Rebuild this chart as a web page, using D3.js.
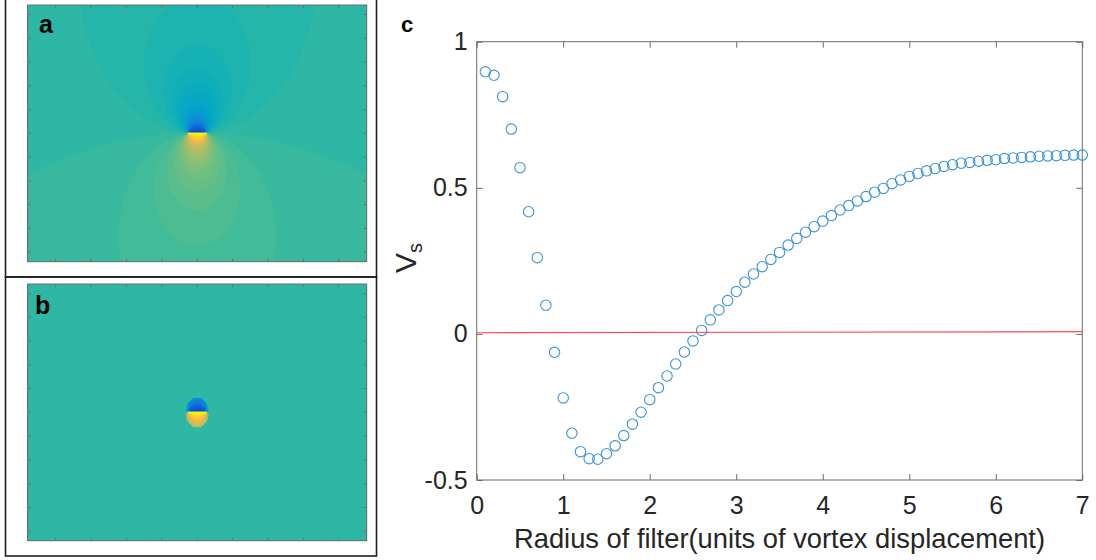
<!DOCTYPE html>
<html>
<head>
<meta charset="utf-8">
<script src="https://cdn.jsdelivr.net/npm/d3@7"></script>
<style>
  body { margin: 0; background: #fff; }
  svg { display: block; }
  text { font-family: "Liberation Sans", Arial, Helvetica, sans-serif; }
</style>
</head>
<body>
<svg id="fig" width="1096" height="560"></svg>
<script>
// ---- panel c: filtered signal V_s against filter radius ----
const radius = [
  0.1, 0.2, 0.3, 0.4, 0.5, 0.6, 0.7, 0.8, 0.9, 1.0,
  1.1, 1.2, 1.3, 1.4, 1.5, 1.6, 1.7, 1.8, 1.9, 2.0,
  2.1, 2.2, 2.3, 2.4, 2.5, 2.6, 2.7, 2.8, 2.9, 3.0,
  3.1, 3.2, 3.3, 3.4, 3.5, 3.6, 3.7, 3.8, 3.9, 4.0,
  4.1, 4.2, 4.3, 4.4, 4.5, 4.6, 4.7, 4.8, 4.9, 5.0,
  5.1, 5.2, 5.3, 5.4, 5.5, 5.6, 5.7, 5.8, 5.9, 6.0,
  6.1, 6.2, 6.3, 6.4, 6.5, 6.6, 6.7, 6.8, 6.9, 7.0
];
const vs = [
  0.897, 0.885, 0.812, 0.701, 0.569, 0.418, 0.261, 0.098, -0.063, -0.219,
  -0.340, -0.403, -0.427, -0.429, -0.410, -0.383, -0.348, -0.309, -0.268, -0.225,
  -0.184, -0.144, -0.103, -0.062, -0.024, 0.012, 0.048, 0.082, 0.114, 0.145,
  0.177, 0.205, 0.230, 0.255, 0.279, 0.304, 0.327, 0.348, 0.367, 0.386,
  0.405, 0.424, 0.439, 0.455, 0.470, 0.485, 0.498, 0.514, 0.527, 0.539,
  0.549, 0.558, 0.566, 0.573, 0.579, 0.584, 0.587, 0.591, 0.594, 0.596,
  0.600, 0.602, 0.604, 0.606, 0.608, 0.609, 0.610, 0.611, 0.612, 0.612
];
// reference level line
const refLineX = [0, 7];
const refLineY = [0.004, 0.0075];

const xTicksC = [0, 1, 2, 3, 4, 5, 6, 7];
const yTicksC = [-0.5, 0, 0.5, 1];
const xLabelC = "Radius of filter(units of vortex displacement)";

// ---- panels a/b: phase field of a displaced vortex pair ----
const fieldXTicks = [-4, -3, -2, -1, 0, 1, 2, 3, 4];
const fieldYTicks = [-5, -4, -3, -2, -1, 0, 1, 2, 3, 4, 5];
const fieldXDomain = [-4.79, 4.79];
const fieldYDomain = [-5.4, 5.4];
const unitX = 0.32;          // axis units per displacement unit, horizontal
const unitY = 0.63;          // axis units per displacement unit, vertical
const halfSeparation = 0.82; // half distance between the two vortex cores
const filterRadius = 1.0;    // radius of the circular filter in panel b

// parula colormap, 64 entries
const parula = [
  [53,42,135],[54,48,147],[54,55,160],[53,61,173],[50,67,186],[44,74,199],[32,83,212],[15,92,221],
  [3,99,225],[2,104,225],[4,109,224],[8,113,222],[13,117,220],[16,121,218],[18,125,216],[20,129,214],
  [20,133,212],[19,137,211],[16,142,210],[12,147,210],[9,152,209],[7,156,207],[6,160,205],[6,164,202],
  [6,167,198],[7,169,194],[10,172,190],[15,174,185],[21,177,180],[29,179,175],[37,181,169],[46,183,164],
  [56,185,158],[66,187,152],[77,188,146],[89,189,140],[101,190,134],[113,191,128],[124,191,123],[135,191,119],
  [146,191,115],[156,191,111],[165,190,107],[174,190,103],[183,189,100],[192,188,96],[200,188,93],[209,187,89],
  [217,186,86],[225,185,82],[233,185,78],[241,185,74],[248,187,68],[253,190,61],[255,195,55],[254,200,50],
  [252,206,46],[250,211,42],[247,216,38],[245,222,33],[245,228,29],[245,235,24],[246,243,19],[249,251,14]
].map(c => d3.rgb(c[0], c[1], c[2]).formatHex());
const colorLo = -Math.PI + 0.02, colorHi = Math.PI + 0.02;

const svg = d3.select("#fig");
svg.append("rect").attr("width", 1096).attr("height", 560).attr("fill", "#fff");

// outer frames of the two image panels
svg.append("rect").attr("x", 5.5).attr("y", -2).attr("width", 371).attr("height", 279)
  .attr("fill", "none").attr("stroke", "#1e1e1e").attr("stroke-width", 1.6);
svg.append("rect").attr("x", 5.5).attr("y", 277).attr("width", 371).attr("height", 279)
  .attr("fill", "none").attr("stroke", "#1e1e1e").attr("stroke-width", 1.6);

function phaseDiff(u, w) {
  return Math.atan2(w, u - halfSeparation) - Math.atan2(w, u + halfSeparation);
}

function drawField(box, masked, id) {
  const xs = d3.scaleLinear().domain(fieldXDomain).range([box.x, box.x + box.w]);
  const ys = d3.scaleLinear().domain(fieldYDomain).range([box.y, box.y + box.h]);
  const nx = Math.round(box.w), ny = Math.round(box.h);
  const cw = box.w / nx, ch = box.h / ny;
  const values = new Float64Array(nx * ny);
  for (let j = 0; j < ny; j++) {
    const Y = ys.invert(box.y + (j + 0.5) * ch);
    for (let i = 0; i < nx; i++) {
      const X = xs.invert(box.x + (i + 0.5) * cw);
      const u = X / unitX, w = Y / unitY;
      let v = phaseDiff(u, w);
      if (masked && u * u + w * w > filterRadius * filterRadius) v = 0;
      values[j * nx + i] = v;
    }
  }
  const color = d3.scaleQuantize().domain([colorLo, colorHi]).range(parula);
  const step = (colorHi - colorLo) / parula.length;
  const thresholds = d3.range(1, parula.length).map(k => colorLo + k * step);
  const contours = d3.contours().size([nx, ny]).thresholds(thresholds)(Array.from(values));

  svg.append("clipPath").attr("id", id).append("rect")
    .attr("x", box.x).attr("y", box.y).attr("width", box.w).attr("height", box.h);
  const g = svg.append("g").attr("clip-path", `url(#${id})`);
  g.append("rect").attr("x", box.x).attr("y", box.y).attr("width", box.w).attr("height", box.h)
    .attr("fill", parula[0]);
  g.append("g")
    .attr("transform", `translate(${box.x},${box.y}) scale(${cw},${ch})`)
    .selectAll("path").data(contours).join("path")
    .attr("d", d3.geoPath())
    .attr("fill", d => color(d.value + step / 2));

  // frame and inward ticks on all four sides
  svg.append("rect").attr("x", box.x).attr("y", box.y).attr("width", box.w).attr("height", box.h)
    .attr("fill", "none").attr("stroke", "#6e6e6e").attr("stroke-width", 1);
  const tk = svg.append("g").attr("stroke", "#6e6e6e").attr("stroke-width", 1);
  fieldXTicks.forEach(t => {
    const px = xs(t);
    tk.append("line").attr("x1", px).attr("x2", px).attr("y1", box.y).attr("y2", box.y + 3);
    tk.append("line").attr("x1", px).attr("x2", px).attr("y1", box.y + box.h).attr("y2", box.y + box.h - 3);
  });
  fieldYTicks.forEach(t => {
    const py = ys(t);
    tk.append("line").attr("y1", py).attr("y2", py).attr("x1", box.x).attr("x2", box.x + 3);
    tk.append("line").attr("y1", py).attr("y2", py).attr("x1", box.x + box.w).attr("x2", box.x + box.w - 3);
  });
}

drawField({ x: 27.7, y: 5, w: 339, h: 256.7 }, false, "clipA");
drawField({ x: 27.7, y: 284, w: 339, h: 256.7 }, true, "clipB");

svg.append("text").attr("x", 39).attr("y", 33).text("a")
  .attr("font-size", 25).attr("font-weight", "bold").attr("fill", "#000");
svg.append("text").attr("x", 35).attr("y", 314).text("b")
  .attr("font-size", 25).attr("font-weight", "bold").attr("fill", "#000");

// ---- panel c ----
const pc = { left: 476.7, right: 1082.3, top: 41.7, bottom: 480 };
const xc = d3.scaleLinear().domain([0, 7]).range([pc.left, pc.right]);
const yc = d3.scaleLinear().domain([-0.5, 1]).range([pc.bottom, pc.top]);
const axisColor = "#6b6b6b", labelColor = "#262626";

function styleAxis(g) {
  g.select(".domain").remove();
  g.selectAll(".tick line").attr("stroke", axisColor);
  g.selectAll(".tick text").attr("fill", labelColor).attr("font-size", 25)
    .attr("font-family", '"Liberation Sans", Arial, Helvetica, sans-serif');
}

svg.append("g").attr("transform", `translate(0,${pc.bottom})`)
  .call(d3.axisBottom(xc).tickValues(xTicksC).tickSize(-6).tickPadding(16).tickFormat(d => String(d)))
  .call(styleAxis);
svg.append("g").attr("transform", `translate(0,${pc.top})`)
  .call(d3.axisTop(xc).tickValues(xTicksC).tickSize(-6).tickFormat(""))
  .call(styleAxis);
svg.append("g").attr("transform", `translate(${pc.left},0)`)
  .call(d3.axisLeft(yc).tickValues(yTicksC).tickSize(-6).tickPadding(9).tickFormat(d => String(d)))
  .call(styleAxis);
svg.append("g").attr("transform", `translate(${pc.right},0)`)
  .call(d3.axisRight(yc).tickValues(yTicksC).tickSize(-6).tickFormat(""))
  .call(styleAxis);
svg.append("rect").attr("x", pc.left).attr("y", pc.top)
  .attr("width", pc.right - pc.left).attr("height", pc.bottom - pc.top)
  .attr("fill", "none").attr("stroke", axisColor).attr("stroke-width", 1);

// markers
svg.append("g").selectAll("circle").data(radius.map((r, i) => [r, vs[i]])).join("circle")
  .attr("cx", d => xc(d[0])).attr("cy", d => yc(d[1])).attr("r", 5.2)
  .attr("fill", "none").attr("stroke", "#3c93d6").attr("stroke-width", 1.1);

// reference line
svg.append("path")
  .datum(refLineX.map((x, i) => [x, refLineY[i]]))
  .attr("d", d3.line().x(d => xc(d[0])).y(d => yc(d[1])))
  .attr("fill", "none").attr("stroke", "#ff4a4a").attr("stroke-width", 1.2);

// axis titles
svg.append("text").attr("x", (pc.left + pc.right) / 2).attr("y", 548)
  .attr("text-anchor", "middle").attr("font-size", 27.3).attr("fill", labelColor)
  .text(xLabelC);
const yl = svg.append("text").attr("transform", `translate(416,258) rotate(-90)`)
  .attr("text-anchor", "middle").attr("font-size", 30).attr("fill", labelColor);
yl.append("tspan").text("V");
yl.append("tspan").attr("font-size", 20).attr("dy", 6).text("s");

svg.append("text").attr("x", 401).attr("y", 31.5).text("c")
  .attr("font-size", 22).attr("font-weight", "bold").attr("fill", "#000");
</script>
</body>
</html>
